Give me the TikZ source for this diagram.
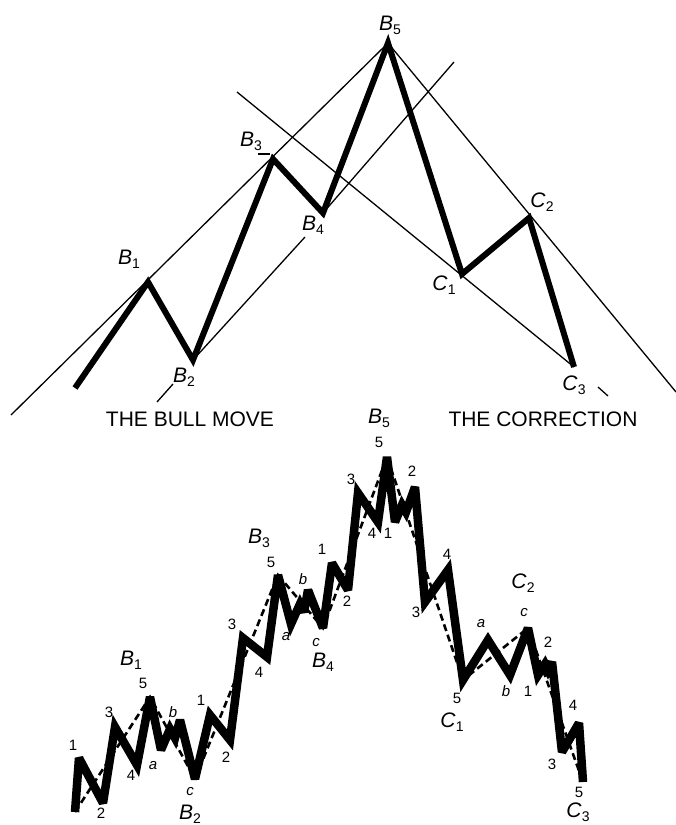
\documentclass[tikz,border=0pt]{standalone}
\usepackage{fontspec}
\setmainfont{Liberation Sans}
\newcommand\wl[2]{\textit{#1}\raisebox{-4pt}{\fontsize{14}{14}\selectfont#2}}
\begin{document}
\begin{tikzpicture}[x=1pt,y=-1pt,
  thinline/.style={line width=1.3pt},
  bigwave/.style={line width=6pt,line join=miter,miter limit=4},
  subwave/.style={line width=8.5pt,line join=miter,miter limit=3},
  trendline/.style={line width=2.6pt,dash pattern=on 7pt off 4pt},
  biglbl/.style={inner sep=0pt,font=\fontsize{21}{21}\selectfont},
  wnum/.style={inner sep=0pt,font=\fontsize{15}{15}\selectfont},
  wlet/.style={inner sep=0pt,font=\fontsize{15}{15}\selectfont\itshape}]
\useasboundingbox (0,0) rectangle (676,825);

% ---------- top diagram ----------
\coordinate (T0) at (75,388);
\coordinate (TB1) at (148,282);
\coordinate (TB2) at (193,360);
\coordinate (TB3) at (273,159);
\coordinate (TB4) at (323,213);
\coordinate (TB5) at (388,43);
\coordinate (TC1) at (462,274);
\coordinate (TC2) at (529,218);
\coordinate (TC3) at (574,367);

\coordinate (U0) at (11,415);
\coordinate (R1) at (676,392);
\coordinate (P0) at (157,402);
\coordinate (P1) at (173,384);
\coordinate (P2) at (305,237);
\coordinate (P3) at (454,62);
\coordinate (Q0) at (237,92);
\coordinate (Q1) at (598,387);
\coordinate (Q2) at (608,396);
\coordinate (K0) at (258,154);
\coordinate (K1) at (270,154);

\draw[thinline] (U0) -- (TB5) -- (R1);
\draw[thinline] (P0) -- (P1);
\draw[thinline] (TB2) -- (P2);
\draw[thinline] (TB4) -- (P3);
\draw[thinline] (Q0) -- (TC3);
\draw[thinline] (Q1) -- (Q2);
\draw[thinline] (K0) -- (K1);

\draw[bigwave] (T0) -- (TB1) -- (TB2) -- (TB3) -- (TB4) -- (TB5) -- (TC1) -- (TC2) -- (TC3);

\node[biglbl] (tlb1) at (129,259) {\wl{B}{1}};
\node[biglbl] (tlb2) at (184,377) {\wl{B}{2}};
\node[biglbl] (tlb3) at (251,141) {\wl{B}{3}};
\node[biglbl] (tlb4) at (313,225) {\wl{B}{4}};
\node[biglbl] (tlb5) at (390,25) {\wl{B}{5}};
\node[biglbl] (tlc1) at (444,285) {\wl{C}{1}};
\node[biglbl] (tlc2) at (542,202) {\wl{C}{2}};
\node[biglbl] (tlc3) at (574,385) {\wl{C}{3}};

\node[biglbl,anchor=base] (bull) at (190,426) {THE BULL MOVE};
\node[biglbl,anchor=base] (corr) at (543,426) {THE CORRECTION};

% ---------- bottom diagram ----------
\coordinate (S0) at (75,812);
\coordinate (SB1) at (150,697);
\coordinate (SB2) at (195,779);
\coordinate (SB3) at (278,575);
\coordinate (SB4) at (323,628);
\coordinate (SB5) at (387,457);
\coordinate (SC1) at (463,680);
\coordinate (SC2) at (528,628);
\coordinate (SC3) at (583,782);

\draw[trendline] (S0) -- (SB1) -- (SB2) -- (SB3) -- (SB4) -- (SB5) -- (SC1) -- (SC2) -- (SC3);

\draw[subwave] (S0) -- (79,758) -- (103,803) -- (115,727) -- (137,765) -- (SB1)
  -- (161,750) -- (170,729) -- (175,738) -- (180,720) -- (SB2)
  -- (210,715) -- (230,740) -- (243,638) -- (267,657) -- (SB3)
  -- (291,624) -- (300,604) -- (304,612) -- (308,590) -- (SB4)
  -- (332,563) -- (348,590) -- (358,493) -- (378,522) -- (SB5)
  -- (395,522) -- (402,505) -- (406,512) -- (415,487) -- (425,602) -- (448,570) -- (SC1)
  -- (488,640) -- (510,675) -- (SC2)
  -- (538,675) -- (545,664) -- (548,670) -- (552,662) -- (562,752) -- (579,723) -- (SC3);

% labels
\node[biglbl] (lb1) at (131,660) {\wl{B}{1}};
\node[biglbl] (lb2) at (190,814) {\wl{B}{2}};
\node[biglbl] (lb3) at (259,538) {\wl{B}{3}};
\node[biglbl] (lb4) at (323,662) {\wl{B}{4}};
\node[biglbl] (lb5) at (379,418) {\wl{B}{5}};
\node[biglbl] (lc1) at (452,722) {\wl{C}{1}};
\node[biglbl] (lc2) at (523,583) {\wl{C}{2}};
\node[biglbl] (lc3) at (578,812) {\wl{C}{3}};

\node[wnum] (n1) at (73,745) {1};
\node[wnum] (n2) at (101,813) {2};
\node[wnum] (n3) at (109,712) {3};
\node[wnum] (n4) at (131,775) {4};
\node[wnum] (n5) at (143,683) {5};
\node[wlet] (na) at (153,766) {a};
\node[wlet] (nb) at (173,712) {b};
\node[wlet] (nc) at (190,792) {c};

\node[wnum] (m1) at (201,700) {1};
\node[wnum] (m2) at (226,757) {2};
\node[wnum] (m3) at (232,624) {3};
\node[wnum] (m4) at (259,672) {4};
\node[wnum] (m5) at (271,562) {5};
\node[wlet] (ma) at (286,637) {a};
\node[wlet] (mb) at (303,579) {b};
\node[wlet] (mc) at (316,643) {c};

\node[wnum] (k1) at (322,549) {1};
\node[wnum] (k2) at (347,601) {2};
\node[wnum] (k3) at (351,479) {3};
\node[wnum] (k4) at (372,533) {4};
\node[wnum] (k5) at (379,442) {5};

\node[wnum] (j1) at (388,533) {1};
\node[wnum] (j2) at (412,471) {2};
\node[wnum] (j3) at (416,612) {3};
\node[wnum] (j4) at (447,554) {4};
\node[wnum] (j5) at (457,698) {5};
\node[wlet] (ja) at (481,624) {a};
\node[wlet] (jb) at (506,691) {b};
\node[wlet] (jc) at (524,613) {c};

\node[wnum] (h1) at (528,691) {1};
\node[wnum] (h2) at (548,642) {2};
\node[wnum] (h3) at (552,764) {3};
\node[wnum] (h4) at (573,705) {4};
\node[wnum] (h5) at (579,792) {5};
\end{tikzpicture}
\end{document}
